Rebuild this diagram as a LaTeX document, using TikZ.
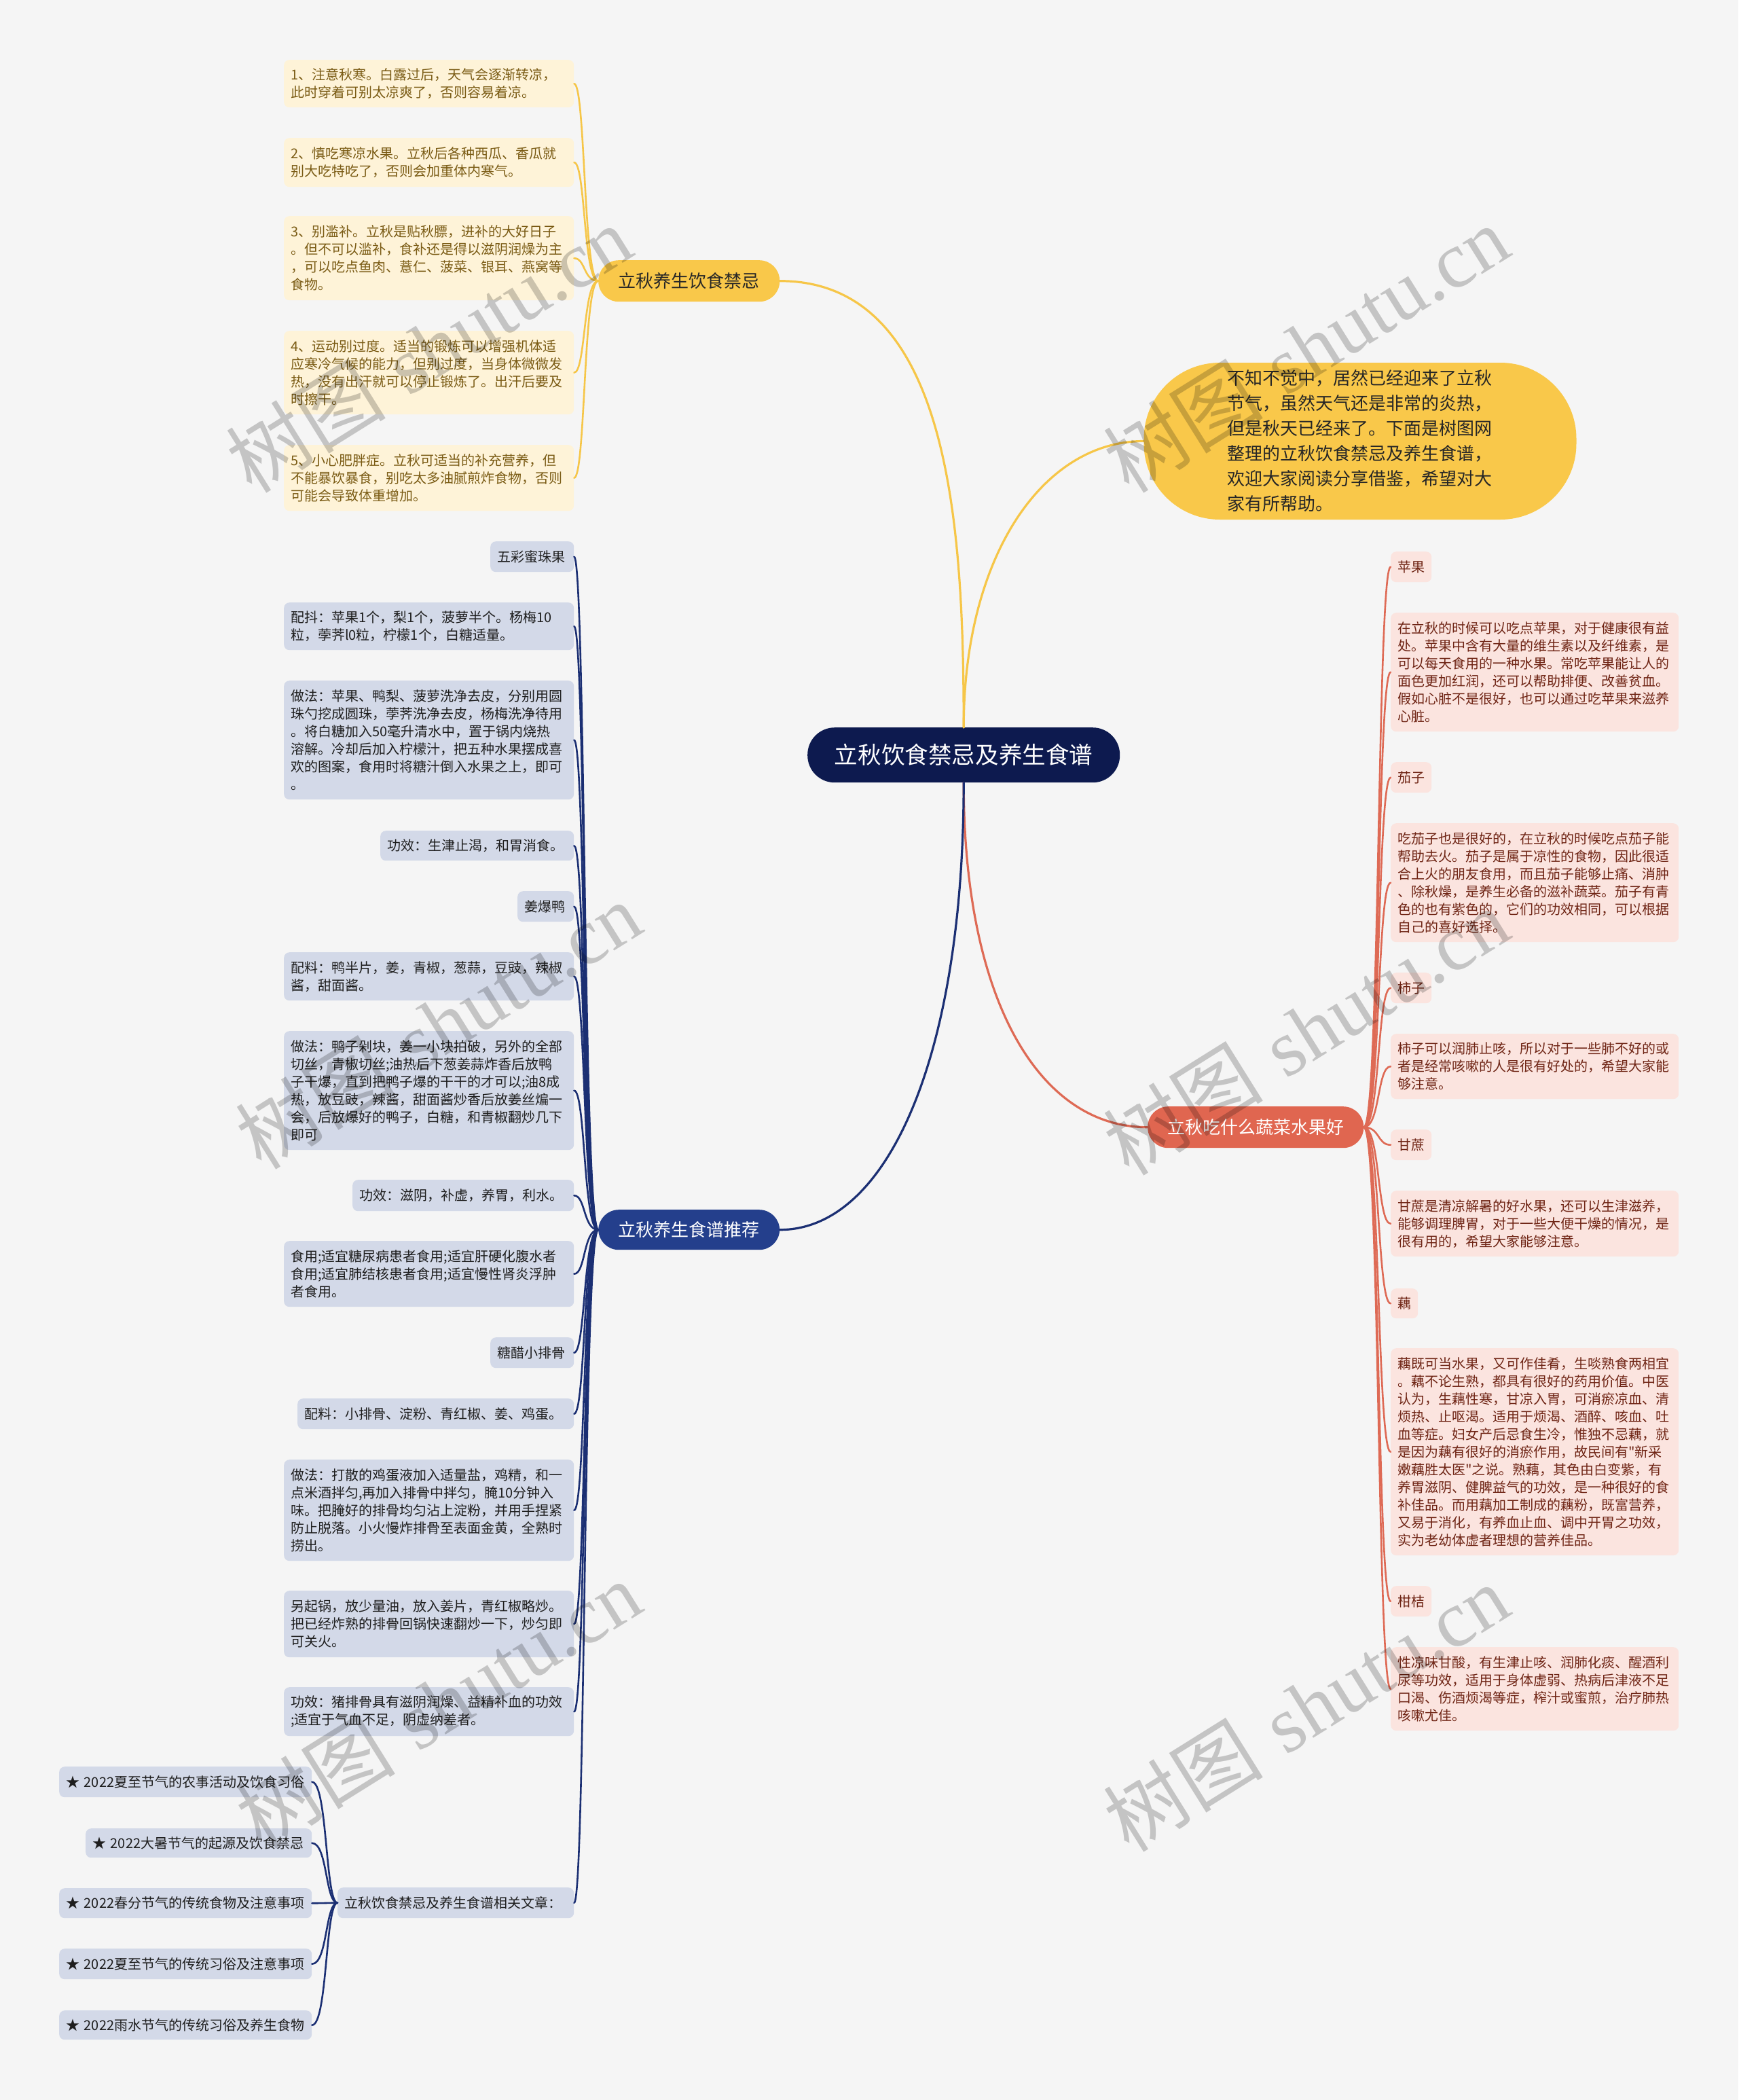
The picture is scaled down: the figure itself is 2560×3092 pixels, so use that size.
\documentclass[tikz,border=0pt]{standalone}
\usepackage{fontspec}
\newfontfamily\cjk{Noto Sans CJK SC}
\newfontfamily\wmlat{Liberation Serif}
\definecolor{bgc}{HTML}{F5F5F5}
\definecolor{yfill}{HTML}{FEF3D8}
\definecolor{ytext}{HTML}{7A5B14}
\definecolor{rfill}{HTML}{FBE4DF}
\definecolor{rtext}{HTML}{6F2515}
\definecolor{bfill}{HTML}{D3D9E8}
\definecolor{btext}{HTML}{1E1E1E}
\definecolor{ymain}{HTML}{F9C84A}
\definecolor{rmain}{HTML}{E06650}
\definecolor{bmain}{HTML}{243F8C}
\definecolor{cmain}{HTML}{0D1A4F}
\definecolor{yline}{HTML}{F6C648}
\definecolor{rline}{HTML}{DE6A55}
\definecolor{bline}{HTML}{1B2F73}
\newcommand\mmnode[7]{%
  \pgfmathsetmacro\mmw{#5-#3}%
  \pgfmathsetmacro\mmh{#6-#4}%
  \pgfmathsetmacro\mmt{#5-#3-20}%
  \node[#2, anchor=north west, minimum width=\mmw pt, minimum height=\mmh pt, text width=\mmt pt] (#1) at (#3,#4) {#7};}
\tikzset{
  leafbase/.style={rounded corners=8pt, inner xsep=10pt, inner ysep=0pt, align=left, font=\cjk\fontsize{20}{26}\selectfont},
  yleaf/.style={leafbase, fill=yfill, text=ytext},
  rleaf/.style={leafbase, fill=rfill, text=rtext},
  bleaf/.style={leafbase, fill=bfill, text=btext},
  branchbase/.style={rounded corners=30pt, inner xsep=10pt, inner ysep=0pt, align=center, font=\cjk\fontsize{26}{32}\selectfont},
  ybranch/.style={branchbase, fill=ymain, text=black!85},
  rbranch/.style={branchbase, fill=rmain, text=white},
  bbranch/.style={branchbase, fill=bmain, text=white},
  cnode/.style={rounded corners=40pt, inner xsep=10pt, inner ysep=0pt, align=center, fill=cmain, text=white, font=\cjk\fontsize{34.6}{40}\selectfont},
  mainconn/.style={line width=3.2pt, line cap=round},
  leafconn/.style={line width=2.6pt, line cap=round},
  wmark/.style={rotate=32, text=black, opacity=0.2, font=\fontsize{118}{130}\selectfont, inner sep=0pt}
}
\begin{document}
\begin{tikzpicture}[x=1pt, y=-1pt]
\fill[bgc] (0,0) rectangle (2560,3092);
\useasboundingbox (0,0) rectangle (2560,3092);

% ---------- nodes ----------
\mmnode{c}{cnode}{1189}{1071}{1649}{1152}{立秋饮食禁忌及养生食谱}
\node[fill=ymain, rounded corners=112pt, minimum width=637pt, minimum height=231pt, text width=392pt, inner xsep=0pt, inner ysep=0pt, align=left, text=black!85, font=\cjk\fontsize{26}{37}\selectfont] (intro) at (2003,649.5) {不知不觉中，居然已经迎来了立秋\\节气，虽然天气还是非常的炎热，\\但是秋天已经来了。下面是树图网\\整理的立秋饮食禁忌及养生食谱，\\欢迎大家阅读分享借鉴，希望对大\\家有所帮助。};

\mmnode{yb}{ybranch}{881}{383}{1148}{444}{立秋养生饮食禁忌}
\mmnode{rb}{rbranch}{1690}{1629}{2008}{1690}{立秋吃什么蔬菜水果好}
\mmnode{bb}{bbranch}{881}{1781}{1148}{1840}{立秋养生食谱推荐}

% yellow leaves
\mmnode{y1}{yleaf}{418}{88}{845}{158}{1、注意秋寒。白露过后，天气会逐渐转凉，\\此时穿着可别太凉爽了，否则容易着凉。}
\mmnode{y2}{yleaf}{418}{203}{845}{275}{2、慎吃寒凉水果。立秋后各种西瓜、香瓜就\\别大吃特吃了，否则会加重体内寒气。}
\mmnode{y3}{yleaf}{418}{318}{845}{442}{3、别滥补。立秋是贴秋膘，进补的大好日子\\。但不可以滥补，食补还是得以滋阴润燥为主\\，可以吃点鱼肉、薏仁、菠菜、银耳、燕窝等\\食物。}
\mmnode{y4}{yleaf}{418}{487}{845}{610}{4、运动别过度。适当的锻炼可以增强机体适\\应寒冷气候的能力，但别过度，当身体微微发\\热，没有出汗就可以停止锻炼了。出汗后要及\\时擦干。}
\mmnode{y5}{yleaf}{418}{655}{845}{752}{5、小心肥胖症。立秋可适当的补充营养，但\\不能暴饮暴食，别吃太多油腻煎炸食物，否则\\可能会导致体重增加。}

% red leaves
\mmnode{r1}{rleaf}{2048}{812}{2108}{857}{苹果}
\mmnode{r2}{rleaf}{2048}{902}{2472}{1077}{在立秋的时候可以吃点苹果，对于健康很有益\\处。苹果中含有大量的维生素以及纤维素，是\\可以每天食用的一种水果。常吃苹果能让人的\\面色更加红润，还可以帮助排便、改善贫血。\\假如心脏不是很好，也可以通过吃苹果来滋养\\心脏。}
\mmnode{r3}{rleaf}{2048}{1122}{2108}{1167}{茄子}
\mmnode{r4}{rleaf}{2048}{1212}{2472}{1387}{吃茄子也是很好的，在立秋的时候吃点茄子能\\帮助去火。茄子是属于凉性的食物，因此很适\\合上火的朋友食用，而且茄子能够止痛、消肿\\、除秋燥，是养生必备的滋补蔬菜。茄子有青\\色的也有紫色的，它们的功效相同，可以根据\\自己的喜好选择。}
\mmnode{r5}{rleaf}{2048}{1432}{2108}{1477}{柿子}
\mmnode{r6}{rleaf}{2048}{1522}{2472}{1618}{柿子可以润肺止咳，所以对于一些肺不好的或\\者是经常咳嗽的人是很有好处的，希望大家能\\够注意。}
\mmnode{r7}{rleaf}{2048}{1663}{2108}{1708}{甘蔗}
\mmnode{r8}{rleaf}{2048}{1753}{2472}{1850}{甘蔗是清凉解暑的好水果，还可以生津滋养，\\能够调理脾胃，对于一些大便干燥的情况，是\\很有用的，希望大家能够注意。}
\mmnode{r9}{rleaf}{2048}{1897}{2088}{1941}{藕}
\mmnode{r10}{rleaf}{2048}{1985}{2472}{2290}{藕既可当水果，又可作佳肴，生啖熟食两相宜\\。藕不论生熟，都具有很好的药用价值。中医\\认为，生藕性寒，甘凉入胃，可消瘀凉血、清\\烦热、止呕渴。适用于烦渴、酒醉、咳血、吐\\血等症。妇女产后忌食生冷，惟独不忌藕，就\\是因为藕有很好的消瘀作用，故民间有"新采\\嫩藕胜太医"之说。熟藕，其色由白变紫，有\\养胃滋阴、健脾益气的功效，是一种很好的食\\补佳品。而用藕加工制成的藕粉，既富营养，\\又易于消化，有养血止血、调中开胃之功效，\\实为老幼体虚者理想的营养佳品。}
\mmnode{r11}{rleaf}{2048}{2335}{2108}{2380}{柑桔}
\mmnode{r12}{rleaf}{2048}{2425}{2472}{2548}{性凉味甘酸，有生津止咳、润肺化痰、醒酒利\\尿等功效，适用于身体虚弱、热病后津液不足\\口渴、伤酒烦渴等症，榨汁或蜜煎，治疗肺热\\咳嗽尤佳。}

% blue leaves
\mmnode{b1}{bleaf}{722}{797}{845}{842}{五彩蜜珠果}
\mmnode{b2}{bleaf}{418}{887}{845}{957}{配抖：苹果1个，梨1个，菠萝半个。杨梅10\\粒，荸荠l0粒，柠檬1个，白糖适量。}
\mmnode{b3}{bleaf}{418}{1002}{845}{1177}{做法：苹果、鸭梨、菠萝洗净去皮，分别用圆\\珠勺挖成圆珠，荸荠洗净去皮，杨梅洗净待用\\。将白糖加入50毫升清水中，置于锅内烧热\\溶解。冷却后加入柠檬汁，把五种水果摆成喜\\欢的图案，食用时将糖汁倒入水果之上，即可\\。}
\mmnode{b4}{bleaf}{560}{1223}{845}{1267}{功效：生津止渴，和胃消食。}
\mmnode{b5}{bleaf}{762}{1312}{845}{1357}{姜爆鸭}
\mmnode{b6}{bleaf}{418}{1402}{845}{1473}{配料：鸭半片，姜，青椒，葱蒜，豆豉，辣椒\\酱，甜面酱。}
\mmnode{b7}{bleaf}{418}{1518}{845}{1693}{做法：鸭子剁块，姜一小块拍破，另外的全部\\切丝，青椒切丝;油热后下葱姜蒜炸香后放鸭\\子干爆，直到把鸭子爆的干干的才可以;油8成\\热，放豆豉，辣酱，甜面酱炒香后放姜丝煸一\\会，后放爆好的鸭子，白糖，和青椒翻炒几下\\即可}
\mmnode{b8}{bleaf}{519}{1737}{845}{1783}{功效：滋阴，补虚，养胃，利水。}
\mmnode{b9}{bleaf}{418}{1827}{845}{1924}{食用;适宜糖尿病患者食用;适宜肝硬化腹水者\\食用;适宜肺结核患者食用;适宜慢性肾炎浮肿\\者食用。}
\mmnode{b10}{bleaf}{722}{1969}{845}{2014}{糖醋小排骨}
\mmnode{b11}{bleaf}{438}{2059}{845}{2104}{配料：小排骨、淀粉、青红椒、姜、鸡蛋。}
\mmnode{b12}{bleaf}{418}{2149}{845}{2298}{做法：打散的鸡蛋液加入适量盐，鸡精，和一\\点米酒拌匀,再加入排骨中拌匀，腌10分钟入\\味。把腌好的排骨均匀沾上淀粉，并用手捏紧\\防止脱落。小火慢炸排骨至表面金黄，全熟时\\捞出。}
\mmnode{b13}{bleaf}{418}{2342}{845}{2440}{另起锅，放少量油，放入姜片，青红椒略炒。\\把已经炸熟的排骨回锅快速翻炒一下，炒匀即\\可关火。}
\mmnode{b14}{bleaf}{418}{2484}{845}{2556}{功效：猪排骨具有滋阴润燥、益精补血的功效\\;适宜于气血不足，阴虚纳差者。}
\mmnode{rel}{bleaf}{497}{2779}{845}{2824}{立秋饮食禁忌及养生食谱相关文章：}

\mmnode{s1}{bleaf}{87}{2601}{459}{2646}{\mbox{★ 2022夏至节气的农事活动及饮食习俗}}
\mmnode{s2}{bleaf}{126}{2692}{459}{2735}{\mbox{★ 2022大暑节气的起源及饮食禁忌}}
\mmnode{s3}{bleaf}{87}{2780}{459}{2824}{\mbox{★ 2022春分节气的传统食物及注意事项}}
\mmnode{s4}{bleaf}{87}{2869}{459}{2914}{\mbox{★ 2022夏至节气的传统习俗及注意事项}}
\mmnode{s5}{bleaf}{87}{2960}{459}{3003}{\mbox{★ 2022雨水节气的传统习俗及养生食物}}

% ---------- connectors ----------
\draw[mainconn, yline] (c.north) .. controls +(0,-300) and +(250,0) .. (yb.east);
\draw[mainconn, yline] (c.north) .. controls +(0,-250) and +(-150,0) .. (intro.west);
\draw[mainconn, rline] (c.south) .. controls +(0,320) and +(-160,0) .. (rb.west);
\draw[mainconn, bline] (c.south) .. controls +(0,400) and +(160,0) .. (bb.east);

\foreach \t in {y1,y2,y3,y4,y5}
  \draw[leafconn, yline] (yb.west) .. controls +(-22,0) and +(17,0) .. (\t.east);
\foreach \t in {r1,r2,r3,r4,r5,r6,r7,r8,r9,r10,r11,r12}
  \draw[leafconn, rline] (rb.east) .. controls +(24,0) and +(-20,0) .. (\t.west);
\foreach \t in {b1,b2,b3,b4,b5,b6,b7,b8,b9,b10,b11,b12,b13,b14,rel}
  \draw[leafconn, bline] (bb.west) .. controls +(-22,0) and +(17,0) .. (\t.east);
\foreach \t in {s1,s2,s3,s4,s5}
  \draw[leafconn, bline] (rel.west) .. controls +(-18,0) and +(23,0) .. (\t.east);

% ---------- watermarks ----------
\foreach \wx/\wy [count=\i] in {631/513, 1923/513, 645/1509, 1923/1518, 645/2509, 1923/2514}
  \node[wmark] (wm\i) at (\wx,\wy) {{\cjk 树图} {\wmlat shutu.cn}};
\end{tikzpicture}
\end{document}
